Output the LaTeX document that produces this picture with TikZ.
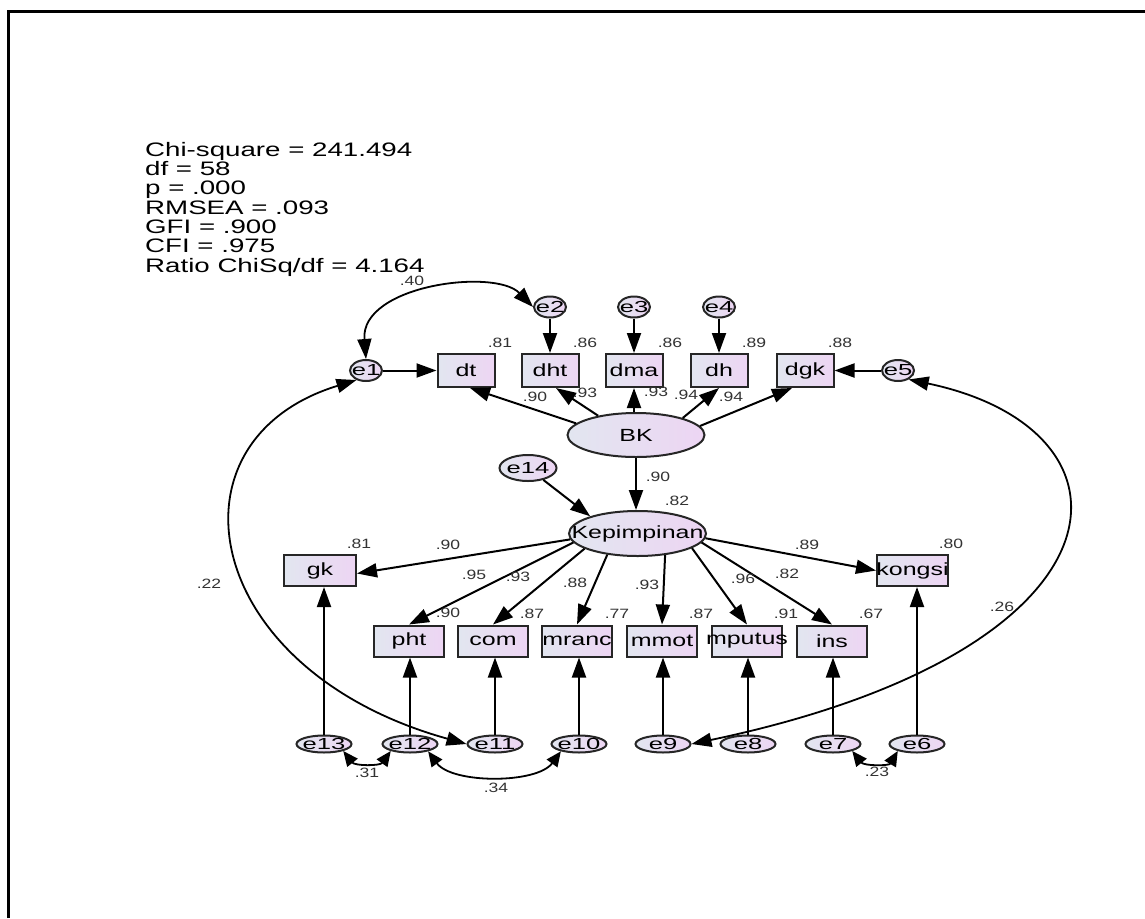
\documentclass[tikz,border=0pt]{standalone}
\usepackage{fontspec}
\setmainfont{Liberation Sans}[FakeStretch=1.42]
\newfontfamily\lblfont{Liberation Sans}[FakeStretch=1.3]
\newfontfamily\efont{Liberation Sans}[FakeStretch=1.6]
\usetikzlibrary{shapes.geometric,arrows.meta}
\definecolor{gl}{RGB}{226,230,240}
\definecolor{gr}{RGB}{237,213,243}
\tikzset{
  obs/.style={rectangle, draw=black!85, line width=2pt, left color=gl, right color=gr, minimum width=57pt, minimum height=31pt, inner sep=0pt, font=\fontsize{17.6}{18}\selectfont},
  err/.style={ellipse, draw=black!85, line width=2pt, left color=gl, right color=gr, minimum width=32pt, minimum height=21pt, inner sep=0pt, font=\efont\fontsize{16}{16}\selectfont},
  errb/.style={err, minimum width=55pt, minimum height=17pt},
  lat/.style={ellipse, draw=black!85, line width=2pt, left color=gl, right color=gr, minimum width=137pt, minimum height=44pt, inner sep=0pt, font=\fontsize{17.6}{18}\selectfont},
  arr/.style={line width=2pt, -{Triangle[length=20pt,width=14pt]}},
  cov/.style={line width=1.8pt, {Triangle[length=20pt,width=14pt]}-{Triangle[length=20pt,width=14pt]}},
  covs/.style={line width=1.8pt, {Triangle[length=15pt,width=13pt]}-{Triangle[length=15pt,width=13pt]}},
  lbl/.style={font=\lblfont\fontsize{13.5}{14}\selectfont, inner sep=0pt, text=black!80}
}
\newcommand{\zw}[1]{\makebox[0pt]{#1}}
\begin{document}
\begin{tikzpicture}[x=1pt,y=-1pt]
\useasboundingbox (0,0) rectangle (1145,918);
\draw[line width=2.5pt] (8.5,918) -- (8.5,11.5) -- (1145,11.5);

% fit statistics
\node[anchor=north west, align=left, inner sep=0pt, font=\fontsize{19.5}{19.3}\selectfont] (stats) at (145,142)
 {Chi-square = 241.494\\df = 58\\p = .000\\RMSEA = .093\\GFI = .900\\CFI = .975\\Ratio ChiSq/df = 4.164};

% top row
\node[obs, minimum height=33pt] (dt)  at (466,370.5) {\zw{dt}};
\node[obs, minimum height=33pt] (dht) at (550,370.5) {\zw{dht}};
\node[obs, minimum height=33pt] (dma) at (634,370.5) {\zw{dma}};
\node[obs, minimum height=33pt] (dh)  at (719,370.5) {\zw{dh}};
\node[obs, minimum height=33pt] (dgk) at (805,370.5) {\zw{dgk}};
\node[err] (e1) at (366,370.5) {\zw{e1}};
\node[err] (e2) at (550,307) {\zw{e2}};
\node[err] (e3) at (634,307) {\zw{e3}};
\node[err] (e4) at (719,307) {\zw{e4}};
\node[err] (e5) at (898,370.5) {\zw{e5}};

\node[lat] (BK) at (636,435) {\zw{BK}};
\node[err, minimum width=57pt, minimum height=26pt] (e14) at (528,468) {\zw{e14}};
\node[lat, minimum height=45pt] (Kep) at (637.5,533.5) {\zw{Kepimpinan}};

% middle row
\node[obs, minimum width=72pt] (gk) at (320,570.5) {\zw{gk}};
\node[obs, minimum width=71pt] (kongsi) at (912.5,570.5) {\zw{kongsi}};

% bottom boxes
\node[obs, minimum width=70pt] (pht) at (409,641) {\zw{pht}};
\node[obs, minimum width=70pt] (com) at (493,641) {\zw{com}};
\node[obs, minimum width=70pt] (mranc) at (577,641) {\zw{mranc}};
\node[obs, minimum width=70pt] (mmot) at (662,641) {\zw{mmot}};
\node[obs, minimum width=70pt] (mputus) at (747,641) {\zw{mputus}};
\node[obs, minimum width=70pt] (ins) at (832,641) {\zw{ins}};

% bottom errors
\node[errb] (e13) at (324,744) {\zw{e13}};
\node[errb] (e12) at (410,744) {\zw{e12}};
\node[errb] (e11) at (495,744) {\zw{e11}};
\node[errb] (e10) at (579,744) {\zw{e10}};
\node[errb] (e9)  at (663,744) {\zw{e9}};
\node[errb] (e8)  at (748,744) {\zw{e8}};
\node[errb] (e7)  at (833,744) {\zw{e7}};
\node[errb] (e6)  at (917,744) {\zw{e6}};

% paths
\draw[arr] (e1) -- (dt);
\draw[arr] (e2) -- (dht);
\draw[arr] (e3) -- (dma);
\draw[arr] (e4) -- (dh);
\draw[arr] (e5) -- (dgk);
\draw[arr] (BK.169) -- ([xshift=4pt]dt.south);
\draw[arr] (BK.153) -- ([xshift=6pt]dht.south);
\draw[arr] (dma.south |- BK.north) -- (dma.south);
\draw[arr] (BK.20) -- (dh.south);
\draw[arr] (BK.8) -- ([xshift=-13pt]dgk.south);
\draw[arr] (BK.south) -- (BK.south |- Kep.north);
\draw[arr] (e14) -- (Kep.160);
\draw[arr] (Kep.185) -- ([yshift=-3pt]gk.east);
\draw[arr] (Kep.188) -- (pht.north);
\draw[arr] (Kep.196) -- (com.north);
\draw[arr] (Kep.215) -- (mranc.north);
\draw[arr] (Kep.322) -- (mmot.north);
\draw[arr] (Kep.345) -- (mputus.north);
\draw[arr] (Kep.352) -- (ins.north);
\draw[arr] (Kep.356) -- (kongsi.west);
\draw[arr] (e13.north) -- (e13.north |- gk.south);
\draw[arr] (e12.north) -- (e12.north |- pht.south);
\draw[arr] (e11.north) -- (e11.north |- com.south);
\draw[arr] (e10.north) -- (e10.north |- mranc.south);
\draw[arr] (e9.north) -- (e9.north |- mmot.south);
\draw[arr] (e8.north) -- (e8.north |- mputus.south);
\draw[arr] (e7.north) -- (e7.north |- ins.south);
\draw[arr] (e6.north) -- (e6.north |- kongsi.south);

% covariances
\draw[cov] (e1.north) .. controls (360,285) and (495,268) .. (e2.west);
\draw[cov] (e1.225) .. controls (160,440) and (200,670) .. (e11.west);
\draw[cov] (e5.-40) .. controls (1150,430) and (1140,650) .. (e9.east);
\draw[covs] (e13.-20) .. controls (355,766) and (380,766) .. (e12.200);
\draw[covs] (e12.-22) .. controls (452,784) and (537,784) .. (e10.202);
\draw[covs] (e7.-20) .. controls (864,766) and (889,766) .. (e6.200);

% labels
\node[lbl] (l40) at (412,281) {.40};
\node[lbl] (r1) at (500,343) {.81};
\node[lbl] (r2) at (585,343) {.86};
\node[lbl] (r3) at (670,343) {.86};
\node[lbl] (r4) at (754,343) {.89};
\node[lbl] (r5) at (840,343) {.88};
\node[lbl] (w1) at (535,397) {.90};
\node[lbl] (w2) at (585,393) {.93};
\node[lbl] (w3) at (656,392) {.93};
\node[lbl] (w4) at (686,395) {.94};
\node[lbl] (w5) at (731,397) {.94};
\node[lbl] (wk) at (658,477) {.90};
\node[lbl] (rk) at (677,501) {.82};
\node[lbl] (rgk) at (359,544) {.81};
\node[lbl] (wgk) at (448,545) {.90};
\node[lbl] (wko) at (807,545) {.89};
\node[lbl] (rko) at (951,544) {.80};
\node[lbl] (v1) at (474,575) {.95};
\node[lbl] (v2) at (518,577) {.93};
\node[lbl] (v3) at (575,583) {.88};
\node[lbl] (v4) at (647,585) {.93};
\node[lbl] (v5) at (743,579) {.96};
\node[lbl] (v6) at (787,574) {.82};
\node[lbl] (q1) at (448,613) {.90};
\node[lbl] (q2) at (532,614) {.87};
\node[lbl] (q3) at (617,614) {.77};
\node[lbl] (q4) at (701,614) {.87};
\node[lbl] (q5) at (786,614) {.91};
\node[lbl] (q6) at (871,614) {.67};
\node[lbl] (c22) at (209,584) {.22};
\node[lbl] (c26) at (1002,607) {.26};
\node[lbl] (c31) at (367,773) {.31};
\node[lbl] (c34) at (496,788) {.34};
\node[lbl] (c23) at (877,772) {.23};
\end{tikzpicture}
\end{document}
